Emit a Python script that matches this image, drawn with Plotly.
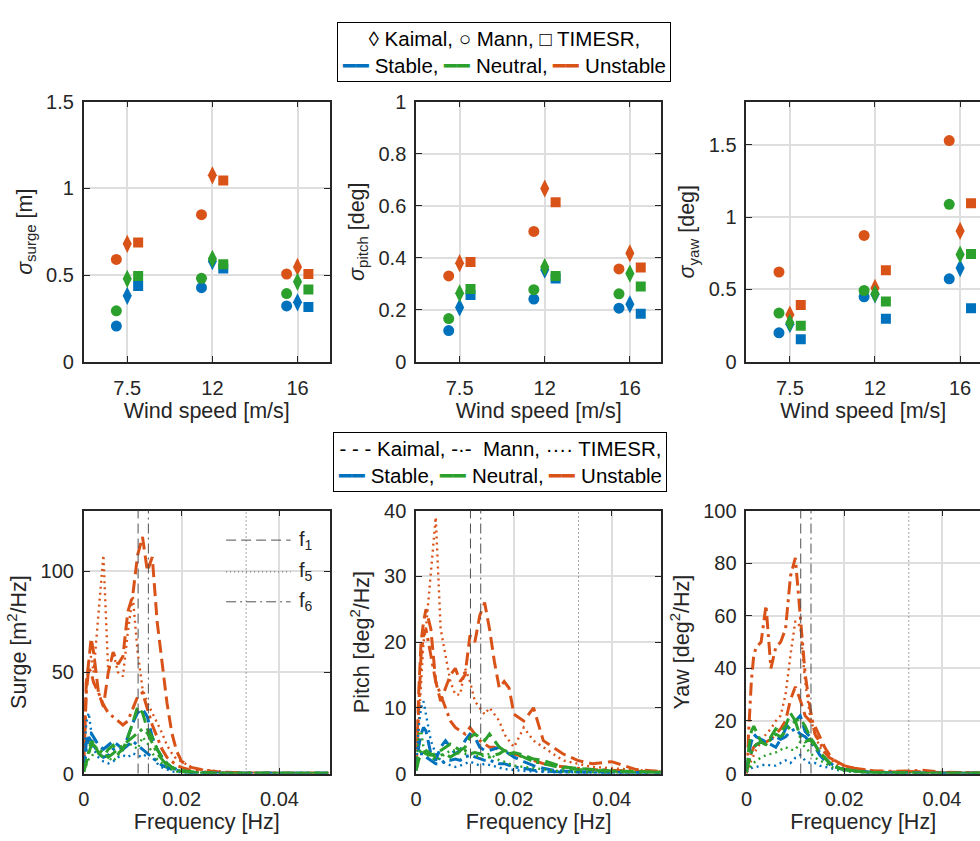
import plotly.graph_objects as go

# ---------------- data ----------------
wind_labels = ["7.5", "12", "16"]
wind_pos = [1, 2, 3]
model_names = ["Kaimal", "Mann", "TIMESR"]
stab_names = ["Stable", "Neutral", "Unstable"]
stab_colors = ["#0072BD", "#2CA02C", "#D95319"]

# standard deviations (values at 7.5, 12, 16 m/s)
surge_kaimal_stable = [0.38, 0.58, 0.343]
surge_kaimal_neutral = [0.478, 0.594, 0.461]
surge_kaimal_unstable = [0.68, 1.075, 0.547]
surge_mann_stable = [0.206, 0.427, 0.322]
surge_mann_neutral = [0.294, 0.481, 0.393]
surge_mann_unstable = [0.59, 0.848, 0.506]
surge_timesr_stable = [0.437, 0.538, 0.316]
surge_timesr_neutral = [0.494, 0.562, 0.417]
surge_timesr_unstable = [0.687, 1.045, 0.506]

pitch_kaimal_stable = [0.209, 0.354, 0.221]
pitch_kaimal_neutral = [0.263, 0.364, 0.339]
pitch_kaimal_unstable = [0.379, 0.666, 0.417]
pitch_mann_stable = [0.12, 0.241, 0.206]
pitch_mann_neutral = [0.166, 0.277, 0.261]
pitch_mann_unstable = [0.330, 0.501, 0.357]
pitch_timesr_stable = [0.257, 0.32, 0.185]
pitch_timesr_neutral = [0.28, 0.330, 0.289]
pitch_timesr_unstable = [0.383, 0.613, 0.362]

yaw_kaimal_stable = [0.26, 0.466, 0.648]
yaw_kaimal_neutral = [0.27, 0.47, 0.742]
yaw_kaimal_unstable = [0.326, 0.511, 0.905]
yaw_mann_stable = [0.2, 0.449, 0.574]
yaw_mann_neutral = [0.337, 0.493, 1.089]
yaw_mann_unstable = [0.621, 0.874, 1.53]
yaw_timesr_stable = [0.155, 0.297, 0.37]
yaw_timesr_neutral = [0.25, 0.417, 0.746]
yaw_timesr_unstable = [0.393, 0.634, 1.097]

# spectra: frequency grid [Hz]
freq = [0, 0.0005, 0.001, 0.0015, 0.002, 0.003, 0.004, 0.005, 0.006, 0.007,
        0.008, 0.009, 0.010, 0.011, 0.012, 0.013, 0.014, 0.015, 0.016, 0.017,
        0.018, 0.019, 0.020, 0.022, 0.024, 0.026, 0.028, 0.030, 0.033, 0.036,
        0.040, 0.045, 0.050]

psd_surge_kaimal_unstable = [3, 45, 55, 67, 60, 40, 33, 50, 60, 54, 58, 80, 88, 108, 117, 100, 107, 75, 55, 35, 20, 11, 6, 3, 2, 1.2, 0.8, 0.5, 0.3, 0.2, 0.2, 0.1, 0.1]
psd_surge_mann_unstable = [5, 40, 52, 50, 45, 40, 34, 30, 28, 26, 24, 26, 32, 38, 40, 32, 24, 18, 12, 8, 6, 4, 3, 1.5, 0.8, 0.5, 0.3, 0.2, 0.2, 0.1, 0.1, 0.1, 0.1]
psd_surge_timesr_unstable = [10, 42, 55, 58, 50, 80, 108, 50, 60, 50, 48, 70, 88, 60, 42, 35, 30, 25, 20, 14, 10, 7, 6, 3, 2, 1.5, 1, 0.5, 0.3, 0.2, 0.2, 0.1, 0.1]
psd_surge_kaimal_stable = [2, 15, 20, 20, 18, 14, 12, 14, 16, 14, 12, 18, 25, 30, 32, 28, 18, 12, 8, 5, 3, 2, 1, 0.5, 0.3, 0.2, 0.1, 0.1, 0.1, 0.1, 0.1, 0.1, 0.1]
psd_surge_mann_stable = [2, 12, 18, 16, 14, 10, 8, 9, 12, 13, 12, 14, 16, 14, 12, 10, 8, 6, 4, 3, 2, 1.5, 1, 0.5, 0.3, 0.2, 0.1, 0.1, 0.1, 0.1, 0.1, 0.1, 0.1]
psd_surge_timesr_stable = [5, 25, 30, 20, 12, 8, 6, 5, 6, 8, 9, 8, 10, 9, 8, 10, 8, 5, 3, 2, 1, 0.8, 0.5, 0.3, 0.2, 0.1, 0.1, 0.1, 0.1, 0.1, 0.1, 0.1, 0.1]
psd_surge_kaimal_neutral = [1, 5, 10, 14, 16, 10, 8, 12, 14, 10, 12, 18, 25, 33, 30, 22, 18, 12, 8, 5, 3, 2, 1.5, 0.8, 0.4, 0.2, 0.1, 0.1, 0.1, 0.1, 0.1, 0.1, 0.1]
psd_surge_mann_neutral = [1, 6, 12, 16, 14, 12, 10, 8, 10, 12, 14, 16, 18, 20, 22, 20, 15, 10, 7, 4, 3, 2, 1, 0.5, 0.3, 0.2, 0.1, 0.1, 0.1, 0.1, 0.1, 0.1, 0.1]
psd_surge_timesr_neutral = [1, 4, 7, 8, 10, 12, 10, 8, 6, 9, 12, 15, 14, 12, 18, 15, 10, 7, 5, 3, 2, 1, 0.8, 0.4, 0.2, 0.1, 0.1, 0.1, 0.1, 0.1, 0.1, 0.1, 0.1]

psd_pitch_kaimal_unstable = [0.5, 12, 20, 23, 25, 22, 14, 11, 13, 15, 16, 14, 15, 21, 20, 24, 26, 22, 17, 13, 14, 13, 9, 8, 10, 5, 4, 3, 2, 1.5, 1.8, 0.6, 0.3]
psd_pitch_mann_unstable = [1, 10, 18, 21, 22, 18, 14, 12, 10, 8, 7, 6.5, 6, 7, 6, 5, 4.5, 4, 4, 3.5, 3.5, 3, 3, 2.5, 2, 1.5, 1.2, 1, 0.8, 0.6, 0.5, 0.3, 0.2]
psd_pitch_timesr_unstable = [1, 8, 15, 20, 22, 30, 39, 22, 18, 14, 12, 12, 16, 14, 11, 10, 9, 10, 9, 8, 6, 5, 4, 7, 5, 4, 3, 2, 1.5, 1, 0.8, 0.5, 0.3]
psd_pitch_kaimal_stable = [0.5, 4, 6, 7, 6.5, 3, 2, 4, 5, 4, 3, 3.5, 5, 6, 5.5, 4, 3.5, 3.5, 3.8, 4, 3.5, 3, 2.5, 1.8, 1.2, 0.8, 0.5, 0.4, 0.3, 0.2, 0.2, 0.1, 0.1]
psd_pitch_mann_stable = [0.5, 3, 3, 3, 2.5, 2, 1.5, 1.5, 2, 2, 2.2, 2, 2.5, 2.8, 2.5, 2.2, 2, 2, 1.8, 1.5, 1.5, 1.2, 1, 0.8, 0.5, 0.4, 0.3, 0.2, 0.2, 0.1, 0.1, 0.1, 0.1]
psd_pitch_timesr_stable = [1, 7, 10, 11, 9, 5, 3, 2, 1.5, 1.2, 1, 1.2, 1.5, 1.8, 1.5, 1.2, 1.5, 1.3, 1, 0.8, 0.7, 0.6, 0.5, 0.4, 0.3, 0.2, 0.2, 0.1, 0.1, 0.1, 0.1, 0.1, 0.1]
psd_pitch_kaimal_neutral = [0.5, 2, 3, 3.2, 3, 2.8, 3, 3.5, 4, 4.5, 4, 3.5, 4, 5.5, 6, 5.5, 5, 6, 5, 4, 3.5, 3, 3.2, 2.8, 2.2, 2, 1.5, 1, 0.8, 0.6, 0.4, 0.3, 0.2]
psd_pitch_mann_neutral = [0.5, 3, 3.5, 3.8, 3.5, 3, 2.5, 2.8, 3, 2.5, 3, 3.2, 3.5, 3, 3.2, 3, 2.8, 2.5, 2.8, 3, 3.5, 3.2, 3, 2.5, 1.8, 1.5, 1.2, 0.8, 0.6, 0.5, 0.3, 0.2, 0.2]
psd_pitch_timesr_neutral = [0.5, 6, 6.5, 4, 3, 2.5, 2, 2.5, 3, 3.5, 3.5, 3.2, 3, 3, 2.8, 2.5, 2.8, 3, 2.5, 2, 1.8, 1.5, 1.2, 1, 0.8, 0.6, 0.4, 0.3, 0.2, 0.2, 0.1, 0.1, 0.1]

psd_yaw_kaimal_unstable = [0, 5, 8, 10, 11, 12, 12, 13, 15, 17, 20, 28, 33, 28, 22, 20, 18, 14, 10, 7, 5, 4, 3, 2, 1.5, 1, 0.8, 0.6, 0.8, 0.6, 0.4, 0.3, 0.2]
psd_yaw_mann_unstable = [0, 20, 35, 45, 48, 50, 64, 40, 48, 50, 55, 75, 82, 60, 38, 25, 15, 12, 8, 6, 5, 4, 3, 2, 1.5, 1, 1, 0.8, 1, 1.2, 0.5, 0.3, 0.2]
psd_yaw_timesr_unstable = [0, 3, 5, 7, 9, 12, 15, 17, 20, 22, 30, 45, 58, 56, 35, 22, 15, 10, 8, 6, 4, 3, 2, 1.5, 1, 0.8, 0.6, 0.5, 0.4, 0.3, 0.3, 0.2, 0.2]
psd_yaw_kaimal_stable = [1, 8, 12, 15, 14, 13, 12, 11, 10, 13, 17, 19, 20, 22, 16, 14, 11, 8, 6, 4, 3, 2, 1.5, 1, 0.6, 0.4, 0.3, 0.2, 0.2, 0.1, 0.1, 0.1, 0.1]
psd_yaw_mann_stable = [1, 6, 8, 10, 11, 12, 12, 13, 14, 13, 14, 16, 17, 15, 14, 12, 10, 7, 5, 3.5, 2.5, 2, 1.5, 1, 0.6, 0.4, 0.3, 0.2, 0.2, 0.1, 0.1, 0.1, 0.1]
psd_yaw_timesr_stable = [0.5, 1.5, 2, 2.5, 2.5, 3, 3.5, 3, 3, 4, 5, 4, 6, 7, 5, 4, 4, 3, 2.5, 2, 1.5, 1.2, 1, 0.6, 0.4, 0.3, 0.2, 0.2, 0.1, 0.1, 0.1, 0.1, 0.1]
psd_yaw_kaimal_neutral = [1, 10, 16, 18, 16, 12, 11, 14, 17, 16, 18, 23, 20, 21, 18, 14, 11, 8, 6, 4, 3, 2, 1.5, 1, 0.6, 0.4, 0.3, 0.2, 0.2, 0.1, 0.1, 0.1, 0.1]
psd_yaw_mann_neutral = [1, 5, 8, 10, 11, 12, 11, 13, 15, 14, 16, 18, 20, 14, 12, 13, 10, 8, 6, 4, 3, 2, 1.5, 1, 0.6, 0.4, 0.3, 0.2, 0.2, 0.1, 0.1, 0.1, 0.1]
psd_yaw_timesr_neutral = [0.5, 2, 3, 4, 5, 6, 7, 7.5, 8, 9, 10, 9, 9, 12, 10, 8, 6, 5, 4, 3, 2, 1.5, 1, 0.6, 0.4, 0.3, 0.2, 0.2, 0.1, 0.1, 0.1, 0.1, 0.1]

# natural frequencies [Hz]
f1_freq = 0.0111
f5_freq = 0.0332
f6_freq = 0.0132

# ---------------- tables built from the arrays ----------------
std_table = {
    "surge": {("Kaimal", "Stable"): surge_kaimal_stable, ("Kaimal", "Neutral"): surge_kaimal_neutral, ("Kaimal", "Unstable"): surge_kaimal_unstable,
              ("Mann", "Stable"): surge_mann_stable, ("Mann", "Neutral"): surge_mann_neutral, ("Mann", "Unstable"): surge_mann_unstable,
              ("TIMESR", "Stable"): surge_timesr_stable, ("TIMESR", "Neutral"): surge_timesr_neutral, ("TIMESR", "Unstable"): surge_timesr_unstable},
    "pitch": {("Kaimal", "Stable"): pitch_kaimal_stable, ("Kaimal", "Neutral"): pitch_kaimal_neutral, ("Kaimal", "Unstable"): pitch_kaimal_unstable,
              ("Mann", "Stable"): pitch_mann_stable, ("Mann", "Neutral"): pitch_mann_neutral, ("Mann", "Unstable"): pitch_mann_unstable,
              ("TIMESR", "Stable"): pitch_timesr_stable, ("TIMESR", "Neutral"): pitch_timesr_neutral, ("TIMESR", "Unstable"): pitch_timesr_unstable},
    "yaw": {("Kaimal", "Stable"): yaw_kaimal_stable, ("Kaimal", "Neutral"): yaw_kaimal_neutral, ("Kaimal", "Unstable"): yaw_kaimal_unstable,
            ("Mann", "Stable"): yaw_mann_stable, ("Mann", "Neutral"): yaw_mann_neutral, ("Mann", "Unstable"): yaw_mann_unstable,
            ("TIMESR", "Stable"): yaw_timesr_stable, ("TIMESR", "Neutral"): yaw_timesr_neutral, ("TIMESR", "Unstable"): yaw_timesr_unstable},
}
psd_table = {
    "surge": {("Kaimal", "Stable"): psd_surge_kaimal_stable, ("Kaimal", "Neutral"): psd_surge_kaimal_neutral, ("Kaimal", "Unstable"): psd_surge_kaimal_unstable,
              ("Mann", "Stable"): psd_surge_mann_stable, ("Mann", "Neutral"): psd_surge_mann_neutral, ("Mann", "Unstable"): psd_surge_mann_unstable,
              ("TIMESR", "Stable"): psd_surge_timesr_stable, ("TIMESR", "Neutral"): psd_surge_timesr_neutral, ("TIMESR", "Unstable"): psd_surge_timesr_unstable},
    "pitch": {("Kaimal", "Stable"): psd_pitch_kaimal_stable, ("Kaimal", "Neutral"): psd_pitch_kaimal_neutral, ("Kaimal", "Unstable"): psd_pitch_kaimal_unstable,
              ("Mann", "Stable"): psd_pitch_mann_stable, ("Mann", "Neutral"): psd_pitch_mann_neutral, ("Mann", "Unstable"): psd_pitch_mann_unstable,
              ("TIMESR", "Stable"): psd_pitch_timesr_stable, ("TIMESR", "Neutral"): psd_pitch_timesr_neutral, ("TIMESR", "Unstable"): psd_pitch_timesr_unstable},
    "yaw": {("Kaimal", "Stable"): psd_yaw_kaimal_stable, ("Kaimal", "Neutral"): psd_yaw_kaimal_neutral, ("Kaimal", "Unstable"): psd_yaw_kaimal_unstable,
            ("Mann", "Stable"): psd_yaw_mann_stable, ("Mann", "Neutral"): psd_yaw_mann_neutral, ("Mann", "Unstable"): psd_yaw_mann_unstable,
            ("TIMESR", "Stable"): psd_yaw_timesr_stable, ("TIMESR", "Neutral"): psd_yaw_timesr_neutral, ("TIMESR", "Unstable"): psd_yaw_timesr_unstable},
}

# ---------------- styling ----------------
FONT = "Liberation Sans, Arial, Helvetica, sans-serif"
TXT = "#262626"
GRID = "#dedede"
W, H = 980, 841
marker_symbol = {"Kaimal": "diamond-tall", "Mann": "circle", "TIMESR": "square"}
marker_size = {"Kaimal": 13, "Mann": 11, "TIMESR": 10}
marker_offset = {"Kaimal": 0.0, "Mann": -0.128, "TIMESR": 0.128}
line_dash = {"Kaimal": "13px,6px", "Mann": "13px,5px,3px,5px", "TIMESR": "2px,4px"}
line_width = {"Kaimal": 3, "Mann": 3, "TIMESR": 2.4}
color_of = dict(zip(stab_names, stab_colors))
draw_order = ["Unstable", "Stable", "Neutral"]

quantities = ["surge", "pitch", "yaw"]

fig = go.Figure()

# top row: standard deviations
for qi, q in enumerate(quantities):
    ax = str(qi + 1)
    for s in draw_order:
        for m in model_names:
            vals = std_table[q][(m, s)]
            fig.add_trace(go.Scatter(
                x=[p + marker_offset[m] for p in wind_pos], y=vals,
                mode="markers", xaxis="x" + ax, yaxis="y" + ax,
                marker=dict(symbol=marker_symbol[m], size=marker_size[m],
                            color=color_of[s], line=dict(width=0)),
                name=m + " " + s, showlegend=False))

# bottom row: spectra
for qi, q in enumerate(quantities):
    ax = str(qi + 4)
    for s in draw_order:
        for m in model_names:
            fig.add_trace(go.Scatter(
                x=freq, y=psd_table[q][(m, s)], mode="lines",
                xaxis="x" + ax, yaxis="y" + ax,
                line=dict(color=color_of[s], width=line_width[m], dash=line_dash[m]),
                name=m + " " + s, showlegend=False))

# ---------------- axes ----------------
def px_x(p):
    return p / W

def px_y(p):
    return 1 - p / H

col_x = [(78.3, 325.7), (412.7, 659.3), (745.0, 980.0)]
top_y = (px_y(360.2), px_y(93.0))
bot_y = (px_y(783.0), px_y(513.0))
unit_px_top = 85.65
unit_px_bot = 246.0 / 0.05

TS = 21.5   # axis title size
SUB = 15    # sub/superscript size

def sized(txt, size, extra=""):
    return "<span style='font-size:%gpx;%s'>%s</span>" % (size, extra, txt)

def sigma_title(sub, unit):
    return (sized("σ", TS, "font-style:italic") + "<sub>" + sized(sub, SUB) + "</sub>"
            + sized(" [" + unit + "]", TS))

def psd_title(name, unit):
    return (sized(name + " [" + unit, TS) + "<sup>" + sized("2", SUB) + "</sup>"
            + sized("/Hz]", TS))

top_titles = [sigma_title("surge", "m"), sigma_title("pitch", "deg"), sigma_title("yaw", "deg")]
top_ranges = [[0, 1.5], [0, 1.0], [0, 1.8]]
top_ticks = [[0, 0.5, 1, 1.5], [0, 0.2, 0.4, 0.6, 0.8, 1], [0, 0.5, 1, 1.5]]
top_ticktext = [["0", "0.5", "1", "1.5"], ["0", "0.2", "0.4", "0.6", "0.8", "1"], ["0", "0.5", "1", "1.5"]]
bot_titles = [psd_title("Surge", "m"), psd_title("Pitch", "deg"), psd_title("Yaw", "deg")]
bot_ranges = [[0, 130], [0, 40], [0, 100]]
bot_ticks = [[0, 50, 100], [0, 10, 20, 30, 40], [0, 20, 40, 60, 80, 100]]

common = dict(showline=True, linecolor=TXT, linewidth=1.8, ticks="inside", ticklen=6,
              tickcolor=TXT, tickwidth=1.2, gridcolor=GRID, gridwidth=1.5, zeroline=False,
              tickfont=dict(family=FONT, size=20, color=TXT))
title_font = dict(family=FONT, size=TS, color=TXT)

layout = {}
for i in range(3):
    x0, x1 = col_x[i]
    width_px = x1 - x0
    last = (i == 2)
    # top
    xr0 = 1 - (122.0 - 78.3) / unit_px_top
    layout["xaxis%d" % (i + 1)] = dict(common, domain=[px_x(x0), px_x(x1)], anchor="y%d" % (i + 1),
                                       range=[xr0, xr0 + width_px / unit_px_top],
                                       tickvals=wind_pos, ticktext=wind_labels, mirror="ticks",
                                       ticklabelstandoff=7,
                                       title=dict(text="Wind speed [m/s]", font=title_font, standoff=5))
    layout["yaxis%d" % (i + 1)] = dict(common, domain=list(top_y), anchor="x%d" % (i + 1),
                                       range=top_ranges[i], tickvals=top_ticks[i], ticktext=top_ticktext[i],
                                       mirror=False if last else "ticks", ticklabelstandoff=4,
                                       title=dict(text=top_titles[i], font=title_font, standoff=8))
    # bottom
    layout["xaxis%d" % (i + 4)] = dict(common, domain=[px_x(x0), px_x(x1)], anchor="y%d" % (i + 4),
                                       range=[0, width_px / unit_px_bot],
                                       tickvals=[0, 0.02, 0.04], ticktext=["0", "0.02", "0.04"],
                                       mirror="ticks", ticklabelstandoff=7,
                                       title=dict(text="Frequency [Hz]", font=title_font, standoff=5))
    layout["yaxis%d" % (i + 4)] = dict(common, domain=list(bot_y), anchor="x%d" % (i + 4),
                                       range=bot_ranges[i], tickvals=bot_ticks[i],
                                       mirror=False if last else "ticks", ticklabelstandoff=4,
                                       title=dict(text=bot_titles[i], font=title_font, standoff=8))

fig.update_layout(**layout)

# natural frequency lines
REF = "#505050"
shapes = []
ref_lines = [(f1_freq, "10px,5px"), (f6_freq, "10px,4px,2px,4px"), (f5_freq, "1px,3px")]
for i in range(3):
    for fx, dsh in ref_lines:
        shapes.append(dict(type="line", xref="x%d" % (i + 4), yref="y%d domain" % (i + 4),
                           x0=fx, x1=fx, y0=0, y1=1,
                           line=dict(color=REF, width=1, dash=dsh)))
# inner legend of natural frequencies (surge spectrum)
leg_items = [("1", 115.4, "10px,5px"), ("5", 99.7, "1px,3px"), ("6", 84.9, "10px,4px,2px,4px")]
annotations = []
for idx, yv, dsh in leg_items:
    shapes.append(dict(type="line", xref="x4", yref="y4", x0=0.0291, x1=0.0423, y0=yv, y1=yv,
                       line=dict(color=REF, width=1, dash=dsh)))
    annotations.append(dict(xref="x4", yref="y4", x=0.0436, y=yv,
                            text="f<sub>" + sized(idx, 14) + "</sub>", showarrow=False,
                            xanchor="left", yanchor="middle",
                            font=dict(family=FONT, size=20, color=TXT)))

LS = 20.5

def bar(c):
    return "<span style='color:%s;font-size:%gpx'>━━</span>" % (c, LS)

top_leg = ("◊ Kaimal, ○ Mann, □ TIMESR,<br>"
           + bar(stab_colors[0]) + " Stable, " + bar(stab_colors[1]) + " Neutral, "
           + bar(stab_colors[2]) + " Unstable")
bot_leg = ("- - - Kaimal, -·-  Mann, ···· TIMESR,<br>"
           + bar(stab_colors[0]) + " Stable, " + bar(stab_colors[1]) + " Neutral, "
           + bar(stab_colors[2]) + " Unstable")
annotations.append(dict(xref="paper", yref="paper", x=px_x(500.7), y=px_y(42.2), text=top_leg,
                        showarrow=False, xanchor="center", yanchor="middle", align="center",
                        bordercolor="#000000", borderwidth=1, borderpad=4, bgcolor="white",
                        font=dict(family=FONT, size=LS, color="#000000")))
annotations.append(dict(xref="paper", yref="paper", x=px_x(497.5), y=px_y(463.3), text=bot_leg,
                        showarrow=False, xanchor="center", yanchor="middle", align="center",
                        bordercolor="#000000", borderwidth=1, borderpad=4, bgcolor="white",
                        font=dict(family=FONT, size=LS, color="#000000")))

fig.update_layout(width=W, height=H, margin=dict(l=0, r=0, t=0, b=0),
                  paper_bgcolor="white", plot_bgcolor="white",
                  shapes=shapes, annotations=annotations, showlegend=False,
                  font=dict(family=FONT, color=TXT))

fig.write_html("out.html")
